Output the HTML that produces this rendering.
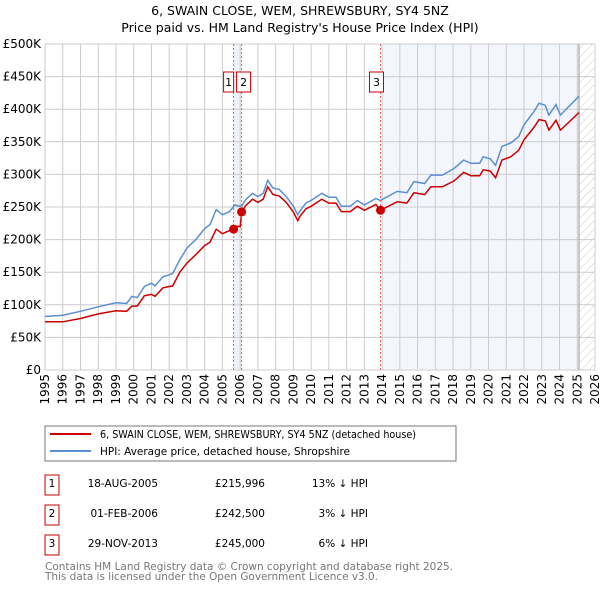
<!DOCTYPE html>
<html><head><meta charset="utf-8"><style>
body{margin:0;background:#fff;}
svg{display:block;font-family:"DejaVu Sans","Liberation Sans",sans-serif;}
</style></head><body>
<svg id="chart" width="600" height="590" viewBox="0 0 600 590" xmlns="http://www.w3.org/2000/svg">
<defs>
<pattern id="hatch" patternUnits="userSpaceOnUse" width="6" height="6" patternTransform="rotate(45)">
<line x1="0" y1="0" x2="0" y2="6" stroke="#ccc" stroke-width="1"/>
</pattern>
</defs>
<text x="300" y="15" text-anchor="middle" font-size="12.5">6, SWAIN CLOSE, WEM, SHREWSBURY, SY4 5NZ</text>
<text x="300" y="32" text-anchor="middle" font-size="12.5">Price paid vs. HM Land Registry's House Price Index (HPI)</text>
<g id="shades"></g>
<g id="grid"></g>
<g id="axes"></g>
<g id="series"></g>
<g id="marks"></g>

<g>
<rect x="45" y="426" width="411" height="35" fill="#fff" stroke="#777" stroke-width="1"/>
<line x1="50" y1="434" x2="91" y2="434" stroke="#cc0000" stroke-width="2"/>
<text x="100" y="438" font-size="10.5" textLength="316" lengthAdjust="spacingAndGlyphs">6, SWAIN CLOSE, WEM, SHREWSBURY, SY4 5NZ (detached house)</text>
<line x1="50" y1="451" x2="91" y2="451" stroke="#5b8fd0" stroke-width="2"/>
<text x="100" y="455" font-size="10.5" textLength="250" lengthAdjust="spacingAndGlyphs">HPI: Average price, detached house, Shropshire</text>
</g>

<g font-size="10.5">
<rect x="45" y="475" width="14" height="20" fill="#fff" stroke="#cc0000"/>
<text x="52" y="487" text-anchor="middle">1</text>
<text x="158" y="487" text-anchor="end">18-AUG-2005</text>
<text x="265" y="487" text-anchor="end">£215,996</text>
<text x="368" y="487" text-anchor="end">13% ↓ HPI</text>
<rect x="45" y="505" width="14" height="20" fill="#fff" stroke="#cc0000"/>
<text x="52" y="517" text-anchor="middle">2</text>
<text x="158" y="517" text-anchor="end">01-FEB-2006</text>
<text x="265" y="517" text-anchor="end">£242,500</text>
<text x="368" y="517" text-anchor="end">3% ↓ HPI</text>
<rect x="45" y="535" width="14" height="20" fill="#fff" stroke="#cc0000"/>
<text x="52" y="547" text-anchor="middle">3</text>
<text x="158" y="547" text-anchor="end">29-NOV-2013</text>
<text x="265" y="547" text-anchor="end">£245,000</text>
<text x="368" y="547" text-anchor="end">6% ↓ HPI</text>
</g>
<text x="45" y="570" font-size="11" fill="#777" textLength="408" lengthAdjust="spacingAndGlyphs">Contains HM Land Registry data © Crown copyright and database right 2025.</text>
<text x="45" y="580" font-size="11" fill="#777" textLength="333" lengthAdjust="spacingAndGlyphs">This data is licensed under the Open Government Licence v3.0.</text>
</svg>
<script>
const years=[1995.0,1996.0,1997.0,1998.0,1999.0,1999.6,1999.9,2000.2,2000.6,2001.0,2001.2,2001.65,2002.0,2002.2,2002.6,2003.0,2003.5,2004.0,2004.3,2004.65,2005.0,2005.4,2005.7,2006.0,2006.1,2006.3,2006.7,2007.0,2007.3,2007.55,2007.85,2008.2,2008.6,2009.0,2009.25,2009.35,2009.7,2010.0,2010.6,2011.0,2011.4,2011.7,2012.2,2012.6,2013.0,2013.65,2013.9,2014.85,2015.4,2015.8,2016.4,2016.75,2017.4,2018.05,2018.6,2019.0,2019.5,2019.7,2020.1,2020.4,2020.75,2021.25,2021.7,2022.0,2022.55,2022.85,2023.2,2023.4,2023.8,2024.05,2024.45,2025.1];
const hpiValues=[82,84,90,97,103,102,113,111,128,133,129,143,146,148,169,187,200,217,223,246,238,243,253,251,252,261,271,266,271,291,279,277,266,251,238,243,256,260,271,265,265,251,251,260,253,263,260,274,272,289,286,299,299,309,322,317,317,327,324,314,343,348,358,376,396,409,406,391,407,391,402,420];
const priceValues=[74,74,79,86,91,90,98,98,114,116,113,126,128,129,150,164,177,191,196,216,209,214,221,220,243,252,262,257,262,281,269,267,257,242,229,235,247,251,262,256,256,243,243,251,245,254,245,258,256,272,269,281,281,290,303,298,298,307,305,295,322,327,337,353,372,384,382,368,383,368,378,395];
const saleYears=[2005.63,2006.08,2013.91];
const salePrices=[215.996,242.5,245];
const saleLabels=["1","2","3"];
const yTicks=[0,50,100,150,200,250,300,350,400,450,500];
const yTickLabels=["£0","£50K","£100K","£150K","£200K","£250K","£300K","£350K","£400K","£450K","£500K"];
const xTicks=[1995,1996,1997,1998,1999,2000,2001,2002,2003,2004,2005,2006,2007,2008,2009,2010,2011,2012,2013,2014,2015,2016,2017,2018,2019,2020,2021,2022,2023,2024,2025,2026];
const dataEnd=2025.1;

const NS="http://www.w3.org/2000/svg";
const L=45,R=595,T=44,B=370;
const x=v=>L+(v-1995)/(2026-1995)*(R-L);
const y=v=>B-(v/500)*(B-T);
function mk(tag,attrs,parent){const e=document.createElementNS(NS,tag);for(const k in attrs)e.setAttribute(k,attrs[k]);parent.appendChild(e);return e;}
const gS=document.getElementById('shades'),gG=document.getElementById('grid'),gA=document.getElementById('axes'),gL=document.getElementById('series'),gM=document.getElementById('marks');

let r=mk('rect',{x:x(saleYears[0]),y:T,width:x(saleYears[1])-x(saleYears[0]),height:B-T,fill:'#eef3fc'},gS);


r=mk('rect',{x:x(saleYears[2]),y:T,width:x(dataEnd)-x(saleYears[2]),height:B-T,fill:'#f3f6fd'},gS);


r=mk('rect',{x:x(dataEnd),y:T,width:R-x(dataEnd),height:B-T,fill:'url(#hatch)'},gS);



yTicks.forEach((t,i)=>{
 const l=mk('line',{x1:L,x2:R,y1:y(t),y2:y(t),stroke:'#ccc','stroke-width':1},gG);
 
 
 const tx=mk('text',{x:L-4,y:y(t)+4,'text-anchor':'end','font-size':12},gA);
 tx.textContent=yTickLabels[i];
 
 
});
xTicks.forEach(t=>{
 const l=mk('line',{x1:x(t),x2:x(t),y1:T,y2:B,stroke:'#ccc','stroke-width':1},gG);
 
 
 const tx=mk('text',{transform:`translate(${x(t)+4},${B+4}) rotate(-90)`,'text-anchor':'end','font-size':12},gA);
 tx.textContent=t;
 
 
});
let el=mk('line',{x1:x(dataEnd),x2:x(dataEnd),y1:T,y2:B,stroke:'#999','stroke-width':1},gG);



function pathFor(vals){return vals.map((v,i)=>(i?'L':'M')+x(years[i]).toFixed(1)+','+y(v).toFixed(1)).join('');}
let p=mk('path',{d:pathFor(hpiValues),fill:'none',stroke:'#5b8fd0','stroke-width':1.5},gL);


p=mk('path',{d:pathFor(priceValues),fill:'none',stroke:'#cc0000','stroke-width':1.5},gL);



saleYears.forEach((s,i)=>{
 const l=mk('line',{x1:x(s),x2:x(s),y1:T,y2:B,stroke:'#e06666','stroke-width':1,'stroke-dasharray':'2,2'},gM);
 
 
 const c=mk('circle',{cx:x(s),cy:y(salePrices[i]),r:4.5,fill:'#cc0000'},gM);
 
 
 const bx=(i===0)?x(s)-10:(i===1?x(s)-5:x(s)-11);
 const b=mk('rect',{x:bx,y:72,width:i===0?10:14,height:20,fill:'#fff',stroke:'#cc0000'},gM);
 
 
 const t=mk('text',{x:bx+(i===0?5:7),y:86,'text-anchor':'middle','font-size':11},gM);
 t.textContent=saleLabels[i];
 
 
});
</script>
</body></html>
